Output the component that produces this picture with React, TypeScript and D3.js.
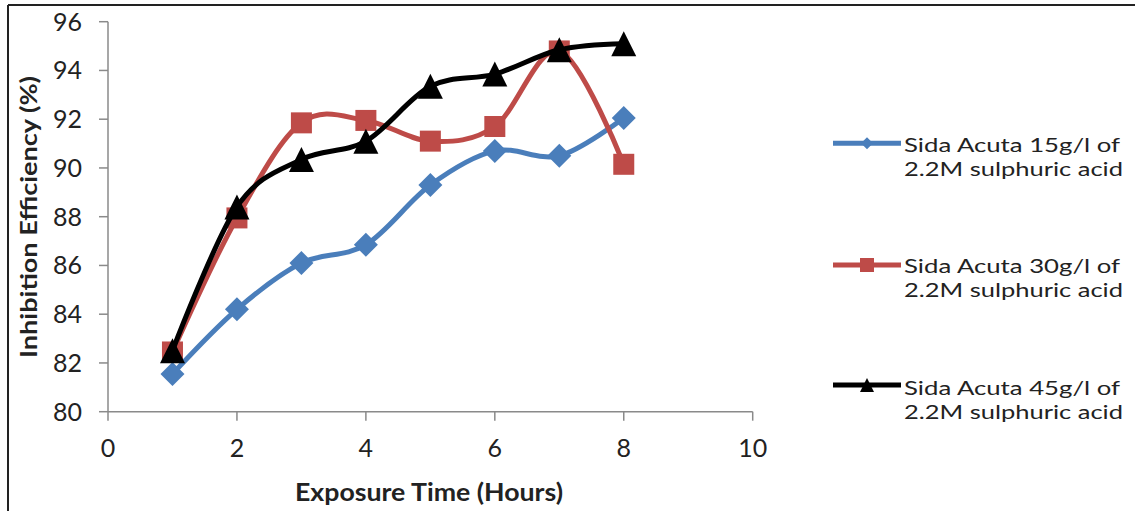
import React from "react";
import * as d3 from "d3";

const hours = [1, 2, 3, 4, 5, 6, 7, 8];
const sida15 = [81.55, 84.2, 86.1, 86.85, 89.3, 90.7, 90.5, 92.05];
const sida30 = [82.45, 87.95, 91.85, 91.95, 91.1, 91.7, 94.8, 90.15];
const sida45 = [82.5, 88.4, 90.35, 91.1, 93.35, 93.85, 94.85, 95.1];
const xTicks = [0, 2, 4, 6, 8, 10];
const yTicks = [80, 82, 84, 86, 88, 90, 92, 94, 96];
const seriesNames = [
  ["Sida Acuta 15g/l of", "2.2M sulphuric acid"],
  ["Sida Acuta 30g/l of", "2.2M sulphuric acid"],
  ["Sida Acuta 45g/l of", "2.2M sulphuric acid"],
];
const colors = ["#4A7EBB", "#BE4B48", "#000000"];
const markers = ["diamond", "square", "triangle"];

const W = 1135;
const H = 511;
const FONT = "Lato, 'Open Sans', sans-serif";

function Marker({ type, x, y, s, color }: { type: string; x: number; y: number; s: number; color: string }) {
  if (type === "diamond") {
    const h = s / 2;
    return <path d={`M${x},${y - h}L${x + h},${y}L${x},${y + h}L${x - h},${y}Z`} fill={color} />;
  }
  if (type === "square") {
    return <rect x={x - s / 2} y={y - s / 2} width={s} height={s} fill={color} />;
  }
  const h = s / 2;
  return <path d={`M${x},${y - h}L${x + h},${y + h}L${x - h},${y + h}Z`} fill={color} />;
}

export default function App() {
  const x = d3.scaleLinear().domain([0, 10]).range([108, 752.7]);
  const y = d3.scaleLinear().domain([80, 96]).range([411.7, 21.7]);
  const line = d3
    .line<number>()
    .x((_, i) => x(hours[i]))
    .y((d) => y(d))
    .curve(d3.curveCardinal.tension(0));
  const all = [sida15, sida30, sida45];
  const markerSize = [24, 21, 25];
  const legendY = [143.3, 265, 385];
  const legendBase = [152, 273, 394.7];

  return (
    <svg width={W} height={H} style={{ position: "absolute", left: 0, top: 0, background: "#fff" }}>
      <rect x={0} y={0} width={W} height={H} fill="#fff" />
      {/* frame */}
      <line x1={8} y1={5} x2={W} y2={5} stroke="#222" strokeWidth={2} />
      <line x1={8} y1={5} x2={8} y2={H} stroke="#222" strokeWidth={2} />

      {/* axes */}
      <line x1={x(0)} y1={y(96)} x2={x(0)} y2={y(80)} stroke="#8a8a8a" strokeWidth={1.5} />
      <line x1={x(0)} y1={y(80)} x2={x(10)} y2={y(80)} stroke="#8a8a8a" strokeWidth={1.5} />
      {yTicks.map((t) => (
        <g key={"y" + t}>
          <line x1={x(0) - 9} x2={x(0)} y1={y(t)} y2={y(t)} stroke="#8a8a8a" strokeWidth={1.5} />
          <text x={82} y={y(t)} dy="0.36em" textAnchor="end" fontFamily={FONT} fontSize={25} fill="#222">
            {t}
          </text>
        </g>
      ))}
      {xTicks.map((t) => (
        <g key={"x" + t}>
          <line x1={x(t)} x2={x(t)} y1={y(80)} y2={y(80) + 9} stroke="#8a8a8a" strokeWidth={1.5} />
          <text x={x(t)} y={457} textAnchor="middle" fontFamily={FONT} fontSize={25} fill="#222">
            {t}
          </text>
        </g>
      ))}

      {/* axis titles */}
      <text
        x={295}
        y={500.5}
        textLength={268}
        lengthAdjust="spacingAndGlyphs"
        fontFamily={FONT}
        fontWeight="bold"
        fontSize={24}
        fill="#222"
      >
        Exposure Time (Hours)
      </text>
      <text
        transform="translate(37,358) rotate(-90)"
        textLength={282}
        lengthAdjust="spacingAndGlyphs"
        fontFamily={FONT}
        fontWeight="bold"
        fontSize={23}
        fill="#222"
      >
        Inhibition Efficiency (%)
      </text>

      {/* series */}
      {all.map((vals, si) => (
        <g key={"s" + si}>
          <path d={line(vals) || ""} fill="none" stroke={colors[si]} strokeWidth={5} strokeLinejoin="round" />
          {vals.map((v, i) => (
            <Marker key={i} type={markers[si]} x={x(hours[i])} y={y(v)} s={markerSize[si]} color={colors[si]} />
          ))}
        </g>
      ))}

      {/* legend */}
      {seriesNames.map((nm, si) => (
        <g key={"l" + si}>
          <line x1={833} x2={901} y1={legendY[si]} y2={legendY[si]} stroke={colors[si]} strokeWidth={5} />
          <Marker type={markers[si]} x={867} y={legendY[si]} s={si === 0 ? 12 : 14} color={colors[si]} />
          <text x={904} y={legendBase[si]} textLength={216} lengthAdjust="spacingAndGlyphs" fontFamily={FONT} fontSize={19.5} fill="#222">
            {nm[0]}
          </text>
          <text x={904} y={legendBase[si] + 24} textLength={219} lengthAdjust="spacingAndGlyphs" fontFamily={FONT} fontSize={19.5} fill="#222">
            {nm[1]}
          </text>
        </g>
      ))}
    </svg>
  );
}
